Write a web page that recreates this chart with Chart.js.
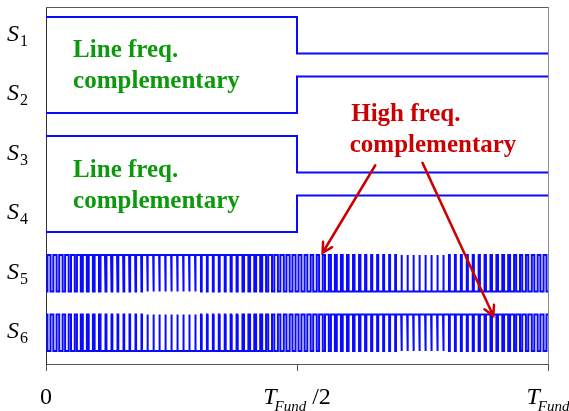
<!DOCTYPE html>
<html>
<head>
<meta charset="utf-8">
<script src="https://cdn.jsdelivr.net/npm/chart.js@4.4.1/dist/chart.umd.min.js"></script>
<style>
  html, body { margin: 0; padding: 0; background: #ffffff; }
  #wrap { width: 569px; height: 411px; }
</style>
</head>
<body>
<div id="wrap"><canvas id="c" width="569" height="411"></canvas></div>
<script>
// Time is in fractions of the fundamental period T_Fund.
const xTicks = [0, 0.5, 1];
// tick label parts: [main, italic subscript, suffix]
const xTickLabels = [['0', '', ''], ['T', 'Fund', '/2'], ['T', 'Fund', '']];

// Gate signal names (subscripts of S), top to bottom
const signalNames = ['1', '2', '3', '4', '5', '6'];

// Line-frequency legs: state in the first half and the second half
const s1States = [1, 0];
const s2States = [0, 1];
const s3States = [1, 0];
const s4States = [0, 1];

// High-frequency leg: S5 duty ratio in each carrier period; S6 is its complement
const s5Duty = [
  0.51, 0.54, 0.57, 0.60, 0.63, 0.65, 0.68, 0.70, 0.73, 0.75, 0.77, 0.79,
  0.81, 0.82, 0.84, 0.85, 0.86, 0.87, 0.87, 0.88, 0.88, 0.88, 0.88, 0.87,
  0.87, 0.86, 0.85, 0.84, 0.82, 0.81, 0.79, 0.77, 0.75, 0.73, 0.70, 0.68,
  0.65, 0.63, 0.60, 0.57, 0.54, 0.51, 0.49, 0.46, 0.43, 0.40, 0.37, 0.35,
  0.32, 0.30, 0.27, 0.25, 0.23, 0.21, 0.19, 0.18, 0.16, 0.15, 0.14, 0.13,
  0.13, 0.12, 0.12, 0.12, 0.12, 0.13, 0.13, 0.14, 0.15, 0.16, 0.18, 0.19,
  0.21, 0.23, 0.25, 0.27, 0.30, 0.32, 0.35, 0.37, 0.40, 0.43, 0.46, 0.49
];

// Annotation text: [x (time), baseline (y units), text]
const greenNotes = [
  [0.054, 5.16, 'Line freq.'], [0.054, 4.64, 'complementary'],
  [0.054, 3.14, 'Line freq.'], [0.054, 2.62, 'complementary']
];
const redNotes = [
  [0.608, 4.08, 'High freq.'], [0.605, 3.56, 'complementary']
];
// Arrows: [x0, y0, x1, y1] in (time, y units), head at the end
const arrows = [
  [0.656, 3.34, 0.551, 1.87],
  [0.750, 3.38, 0.891, 0.81]
];

// Each signal occupies one lane of height 1 on the y axis
const LANES = 6;
const LOW = 0.22, HIGH = 0.83, LABEL_POS = 0.55;
const laneBase = i => LANES - 1 - i;   // i = 0 for S1
const level = (i, on) => laneBase(i) + (on ? HIGH : LOW);

function lineFreqPoints(i, states) {
  const a = level(i, states[0]), b = level(i, states[1]);
  return [{x: 0, y: a}, {x: 0.5, y: a}, {x: 0.5, y: b}, {x: 1, y: b}];
}

function pwmPoints(i, duty, invert) {
  const n = duty.length, pts = [];
  duty.forEach((d, k) => {
    const t0 = k / n, t1 = (k + 0.5 - d / 2) / n, t2 = (k + 0.5 + d / 2) / n, t3 = (k + 1) / n;
    const lo = level(i, invert), hi = level(i, !invert);
    pts.push({x: t0, y: lo}, {x: t1, y: lo}, {x: t1, y: hi}, {x: t2, y: hi}, {x: t2, y: lo}, {x: t3, y: lo});
  });
  return pts;
}

const blue = '#0a0aff';
const series = [
  lineFreqPoints(0, s1States),
  lineFreqPoints(1, s2States),
  lineFreqPoints(2, s3States),
  lineFreqPoints(3, s4States),
  pwmPoints(4, s5Duty, false),
  pwmPoints(5, s5Duty, true)
];

const datasets = series.map((pts, i) => ({
  label: 'S' + signalNames[i],
  data: pts,
  borderColor: blue,
  borderWidth: 2,
  pointRadius: 0,
  tension: 0,
  fill: false,
  borderJoinStyle: 'miter',
  borderCapStyle: 'butt'
}));

const SERIF = '"Liberation Serif", "Times New Roman", serif';

const decorPlugin = {
  id: 'decor',
  beforeDatasetsDraw(chart) {
    const {ctx, chartArea: a} = chart;
    ctx.save();
    // frame: top and right edges
    ctx.lineWidth = 1;
    ctx.strokeStyle = '#5a5a5a';
    ctx.beginPath();
    ctx.moveTo(a.left, a.top + 0.5);
    ctx.lineTo(a.right, a.top + 0.5);
    ctx.stroke();
    ctx.strokeStyle = '#8a8a8a';
    ctx.beginPath();
    ctx.moveTo(a.right + 0.5, a.top);
    ctx.lineTo(a.right + 0.5, a.bottom);
    ctx.stroke();
    ctx.restore();
  },
  afterDraw(chart) {
    const {ctx} = chart;
    const xs = chart.scales.x, ys = chart.scales.y;
    ctx.save();
    ctx.fillStyle = '#000';
    ctx.textAlign = 'left';
    ctx.textBaseline = 'alphabetic';

    // lane labels S1..S6
    signalNames.forEach((sub, i) => {
      const y = ys.getPixelForValue(laneBase(i) + LABEL_POS);
      ctx.font = 'italic 24px ' + SERIF;
      ctx.fillText('S', 7, y + 7);
      const w = ctx.measureText('S').width;
      ctx.font = '16px ' + SERIF;
      ctx.fillText(sub, 7 + w + 1, y + 12);
    });

    // time axis labels
    xTicks.forEach((t, k) => {
      const [main, sub, suffix] = xTickLabels[k];
      const x = xs.getPixelForValue(t);
      const base = 404;
      if (!sub) {
        ctx.font = '24px ' + SERIF;
        const w = ctx.measureText(main).width;
        ctx.fillText(main, x - w / 2, base);
        return;
      }
      ctx.font = 'italic 24px ' + SERIF;
      const wm = ctx.measureText(main).width;
      ctx.font = 'italic 15px ' + SERIF;
      const ws = ctx.measureText(sub).width;
      ctx.font = '24px ' + SERIF;
      const gap = suffix ? 6 : 0;
      const wx = suffix ? ctx.measureText(suffix).width : 0;
      const total = wm - 2 + ws + gap + wx;
      let cx = x - total / 2;
      ctx.font = 'italic 24px ' + SERIF;
      ctx.fillText(main, cx, base);
      cx += wm - 2;
      ctx.font = 'italic 15px ' + SERIF;
      ctx.fillText(sub, cx, base + 7);
      cx += ws + gap;
      if (suffix) {
        ctx.font = '24px ' + SERIF;
        ctx.fillText(suffix, cx, base);
      }
    });

    // annotations
    ctx.font = 'bold 25px ' + SERIF;
    ctx.fillStyle = '#0c990c';
    greenNotes.forEach(([t, v, s]) => ctx.fillText(s, xs.getPixelForValue(t), ys.getPixelForValue(v)));
    ctx.fillStyle = '#cc0000';
    redNotes.forEach(([t, v, s]) => ctx.fillText(s, xs.getPixelForValue(t), ys.getPixelForValue(v)));

    // arrows
    ctx.strokeStyle = '#cc0000';
    ctx.lineWidth = 2.5;
    ctx.lineCap = 'round';
    arrows.forEach(([t0, v0, t1, v1]) => {
      const x0 = xs.getPixelForValue(t0), y0 = ys.getPixelForValue(v0);
      const x1 = xs.getPixelForValue(t1), y1 = ys.getPixelForValue(v1);
      const ang = Math.atan2(y1 - y0, x1 - x0);
      const L = 11, spread = 0.5;
      ctx.beginPath();
      ctx.moveTo(x0, y0);
      ctx.lineTo(x1, y1);
      ctx.moveTo(x1 - L * Math.cos(ang - spread), y1 - L * Math.sin(ang - spread));
      ctx.lineTo(x1, y1);
      ctx.lineTo(x1 - L * Math.cos(ang + spread), y1 - L * Math.sin(ang + spread));
      ctx.stroke();
    });
    ctx.restore();
  }
};

new Chart(document.getElementById('c'), {
  type: 'line',
  data: { datasets },
  options: {
    responsive: false,
    animation: false,
    devicePixelRatio: 1,
    layout: { padding: { top: 7, right: 21, left: 0, bottom: 0 } },
    plugins: { legend: { display: false }, tooltip: { enabled: false } },
    scales: {
      x: {
        type: 'linear',
        min: 0, max: 1,
        afterBuildTicks: s => { s.ticks = xTicks.map(v => ({ value: v })); },
        afterFit: s => { s.height = 47; },
        ticks: { display: false },
        grid: { display: true, drawOnChartArea: false, drawTicks: true, tickLength: 7, color: '#555', lineWidth: 1 },
        border: { display: true, color: '#555', width: 1 }
      },
      y: {
        type: 'linear',
        min: 0, max: LANES,
        afterFit: s => { s.width = 46; },
        ticks: { display: false },
        grid: { display: false },
        border: { display: true, color: '#333', width: 1 }
      }
    }
  },
  plugins: [decorPlugin]
});
</script>
</body>
</html>
